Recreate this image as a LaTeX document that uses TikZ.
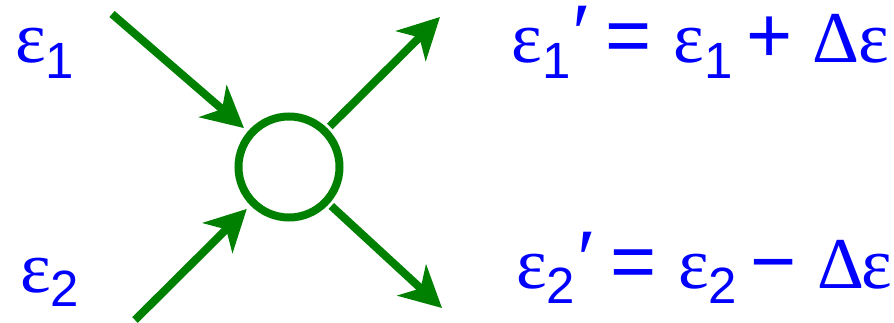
\documentclass[tikz,border=0pt]{standalone}
\usepackage{fontspec}
\setmainfont{Liberation Sans}
\newfontfamily\grf{Liberation Serif}
\usetikzlibrary{arrows.meta}
\definecolor{lblue}{RGB}{0,0,255}
\definecolor{lgreen}{RGB}{0,128,0}
\newcommand\pc[3]{\rlap{\kern#1pt\raisebox{#2pt}{#3}}}
\newcommand\grk[1]{{\grf\fontsize{73}{80}\selectfont #1}}
\newcommand\prm{{\grf\fontsize{86}{90}\selectfont ′}}
\newcommand\sdg[1]{{\fontsize{51}{60}\selectfont #1}}
\newcommand\opr[1]{{\fontsize{79}{85}\selectfont #1}}
\tikzset{
  arr/.style={draw=lgreen, line width=8pt, -{Stealth[length=41pt,width=42pt,inset=12pt]}},
  lbl/.style={anchor=base west, inner sep=0pt, outer sep=0pt, text=lblue},
}
\begin{document}
\begin{tikzpicture}[x=1pt,y=-1pt]
\useasboundingbox (0,0) rectangle (894,323);
\node[circle, draw=lgreen, line width=8pt, minimum size=101pt, inner sep=0pt] (c) at (289,167) {};
\coordinate (s1) at (112,14);
\coordinate (s2) at (135,320);
\coordinate (e1) at (440,17);
\coordinate (e2) at (442,308);
\draw[arr, shorten >=5pt] (s1) -- (c);
\draw[arr, shorten >=5pt] (s2) -- (c);
\draw[arr, shorten <=3pt] (c) -- (e1);
\draw[arr, shorten <=3pt] (c) -- (e2);
\node[lbl] (in1) at (0,63) {\pc{15}{0}{\grk{ε}}\pc{45.5}{-16}{\sdg{1}}};
\node[lbl] (in2) at (0,292) {\pc{20}{0}{\grk{ε}}\pc{50.5}{-14}{\sdg{2}}};
\node[lbl] (out1) at (0,63) {\pc{511}{0}{\grk{ε}}\pc{542.5}{-16}{\sdg{1}}\pc{572}{0}{\prm}\pc{605.4}{0}{\opr{=}}\pc{673}{0}{\grk{ε}}\pc{704.5}{-16}{\sdg{1}}\pc{745.7}{0}{\opr{+}}\pc{812}{0}{\grk{Δ}}\pc{858}{0}{\grk{ε}}};
\node[lbl] (out2) at (0,288) {\pc{516}{0}{\grk{ε}}\pc{546.5}{-15}{\sdg{2}}\pc{577}{0}{\prm}\pc{610.4}{0}{\opr{=}}\pc{678}{0}{\grk{ε}}\pc{708.5}{-15}{\sdg{2}}\pc{750.4}{0}{\opr{−}}\pc{817}{0}{\grk{Δ}}\pc{861}{0}{\grk{ε}}};
\end{tikzpicture}
\end{document}
